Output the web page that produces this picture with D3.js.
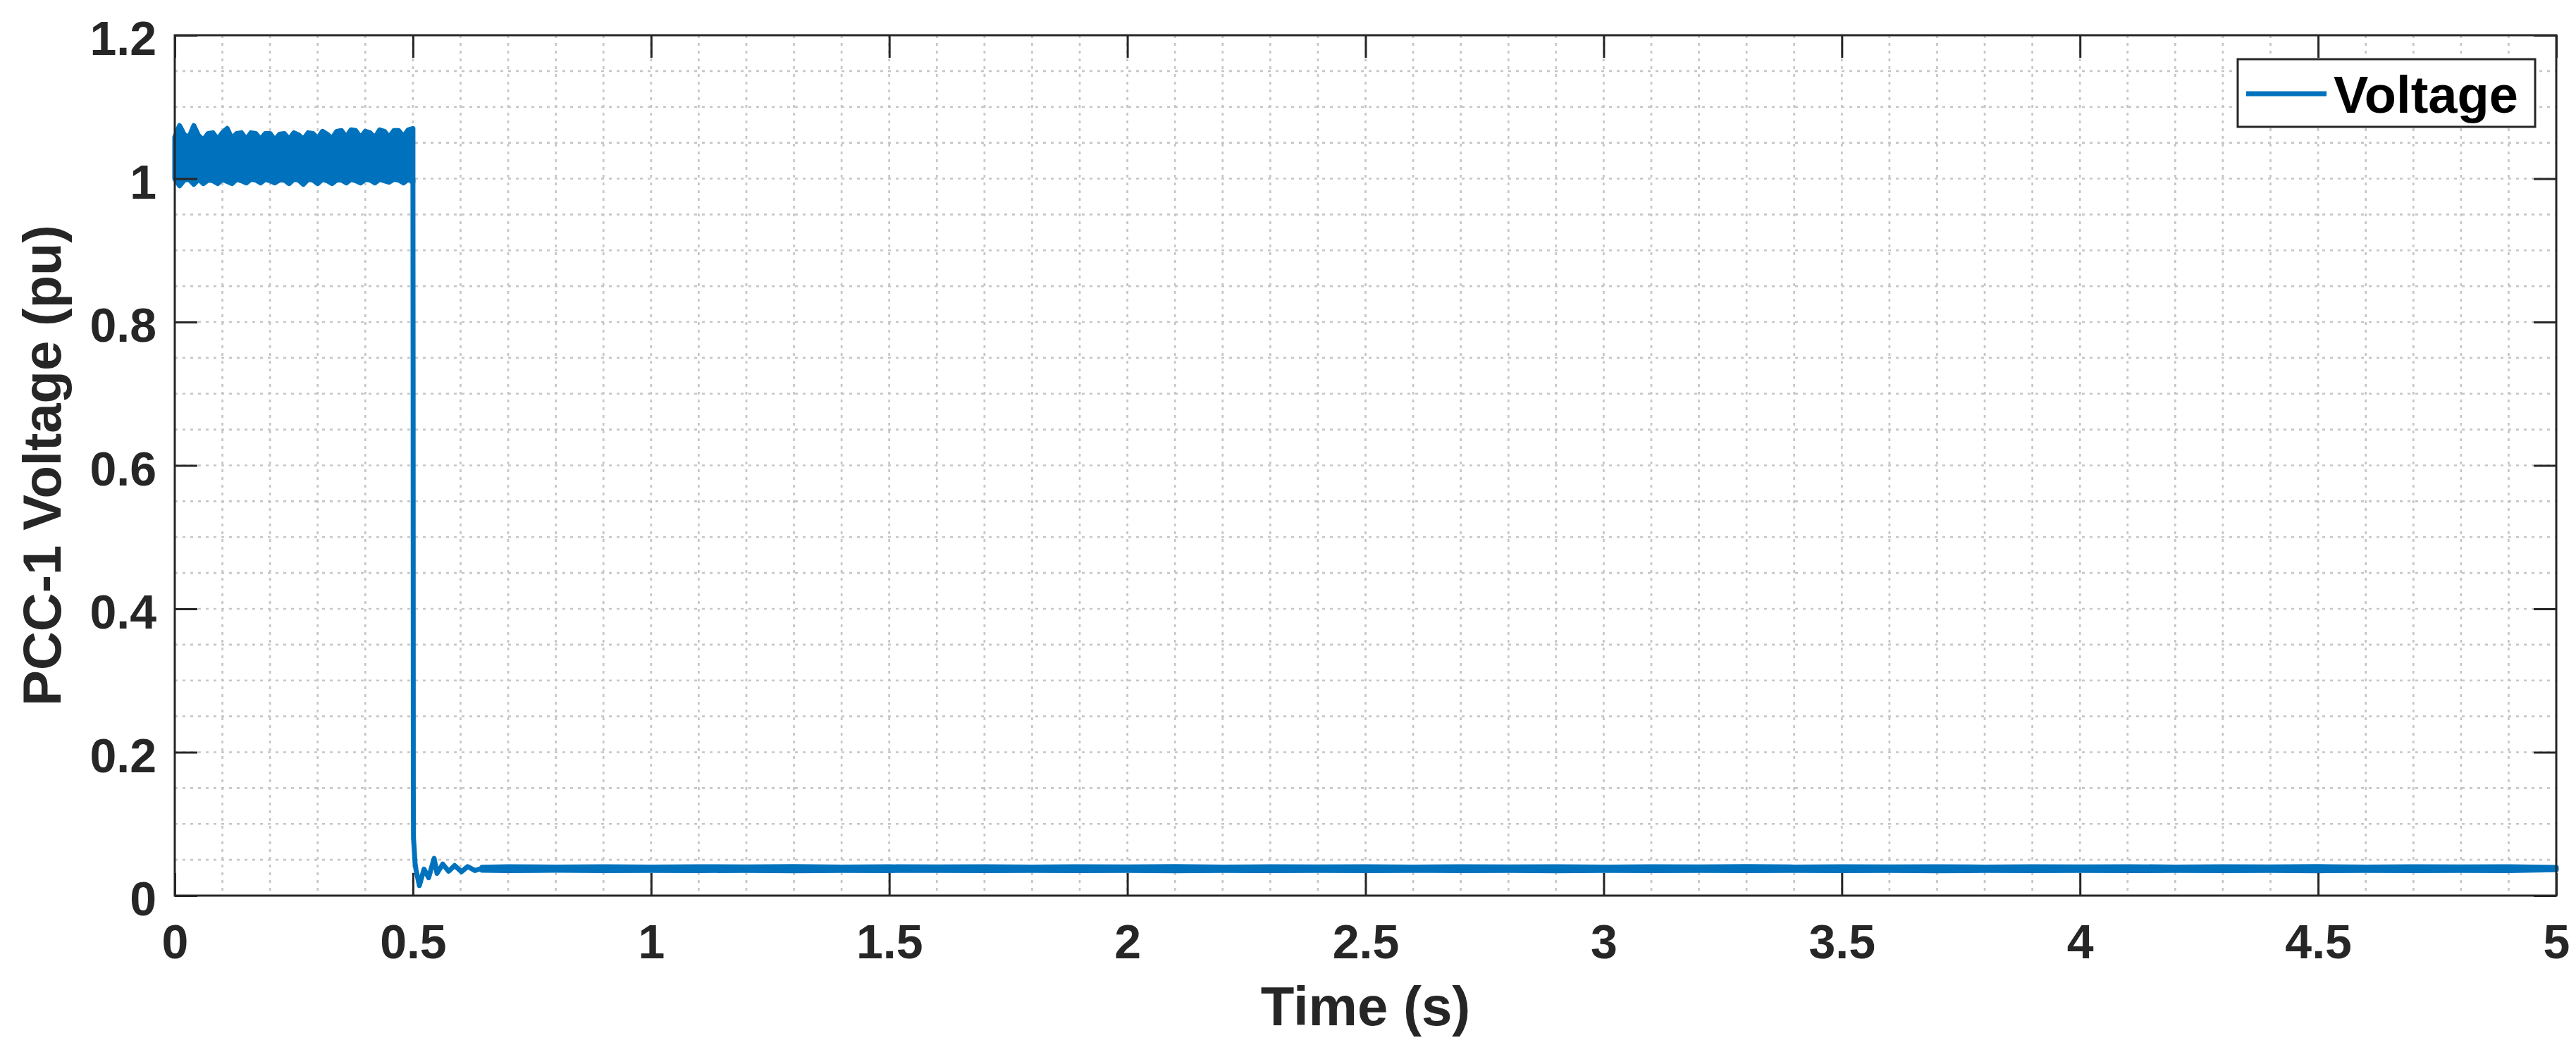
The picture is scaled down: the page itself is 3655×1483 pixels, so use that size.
<!DOCTYPE html>
<html>
<head>
<meta charset="utf-8">
<script src="https://cdn.jsdelivr.net/npm/d3@7"></script>
<style>
  html, body { margin: 0; padding: 0; background: #fff; }
  svg { display: block; }
  text { font-family: "Liberation Sans", Arial, Helvetica, sans-serif; font-weight: bold; }
</style>
</head>
<body>
<svg id="chart" width="3655" height="1483"></svg>
<script>
// ---------------- DATA ----------------
const seriesName = "Voltage";
const xTickValues = [0, 0.5, 1, 1.5, 2, 2.5, 3, 3.5, 4, 4.5, 5];
const xTickLabels = ["0", "0.5", "1", "1.5", "2", "2.5", "3", "3.5", "4", "4.5", "5"];
const yTickValues = [0, 0.2, 0.4, 0.6, 0.8, 1, 1.2];
const yTickLabels = ["0", "0.2", "0.4", "0.6", "0.8", "1", "1.2"];

// Pre-fault period: fast ripple drawn as its min/max envelope (pu)
const bandTime = [0.00, 0.01, 0.02, 0.03, 0.04, 0.05, 0.06, 0.07, 0.08, 0.09,
                  0.10, 0.11, 0.12, 0.13, 0.14, 0.15, 0.16, 0.17, 0.18, 0.19,
                  0.20, 0.21, 0.22, 0.23, 0.24, 0.25, 0.26, 0.27, 0.28, 0.29,
                  0.30, 0.31, 0.32, 0.33, 0.34, 0.35, 0.36, 0.37, 0.38, 0.39,
                  0.40, 0.41, 0.42, 0.43, 0.44, 0.45, 0.46, 0.47, 0.48, 0.49, 0.50];
const bandUpper = [1.058, 1.074, 1.061, 1.058, 1.074, 1.060, 1.054, 1.063, 1.064, 1.055,
                   1.064, 1.070, 1.056, 1.063, 1.064, 1.055, 1.064, 1.063, 1.055, 1.063,
                   1.063, 1.054, 1.062, 1.063, 1.055, 1.064, 1.061, 1.055, 1.064, 1.063,
                   1.056, 1.066, 1.062, 1.056, 1.066, 1.067, 1.058, 1.068, 1.067, 1.057,
                   1.066, 1.064, 1.057, 1.068, 1.066, 1.058, 1.067, 1.067, 1.059, 1.068, 1.070];
const bandLower = [1.000, 0.990, 0.998, 0.999, 0.992, 0.999, 0.993, 0.998, 0.997, 0.993,
                   0.999, 0.996, 0.993, 0.999, 0.997, 0.994, 0.999, 0.998, 0.994, 0.999,
                   0.997, 0.994, 0.998, 0.998, 0.993, 0.999, 0.998, 0.992, 0.999, 0.998,
                   0.993, 0.999, 0.997, 0.993, 0.998, 0.998, 0.994, 0.999, 0.997, 0.994,
                   0.999, 0.998, 0.994, 0.999, 0.997, 0.995, 0.999, 0.998, 0.994, 0.999, 0.995];

// Fault at 0.5 s and the damped transient that follows (pu)
const lineTime = [0.5000, 0.5004, 0.5008, 0.5012, 0.5030, 0.5045, 0.5065, 0.5135, 0.5233, 0.5330,
                  0.5445, 0.5505, 0.5625, 0.5750, 0.5875, 0.6020, 0.6150, 0.6300, 0.6450];
const lineVoltage = [0.998, 0.700, 0.150, 0.080, 0.062, 0.045, 0.036, 0.014, 0.037, 0.025,
                     0.052, 0.031, 0.044, 0.034, 0.042, 0.0334, 0.0405, 0.0350, 0.0380];

// Post-fault steady state: small fast ripple drawn as its min/max envelope (pu)
const postTime = [0.645, 0.70, 0.80, 0.90, 1.00, 1.10, 1.20, 1.30, 1.40, 1.50,
                  1.60, 1.70, 1.80, 1.90, 2.00, 2.10, 2.20, 2.30, 2.40, 2.50,
                  2.60, 2.70, 2.80, 2.90, 3.00, 3.10, 3.20, 3.30, 3.40, 3.50,
                  3.60, 3.70, 3.80, 3.90, 4.00, 4.10, 4.20, 4.30, 4.40, 4.50,
                  4.60, 4.70, 4.80, 4.90, 5.00];
const postUpper = [0.0395, 0.0402, 0.0398, 0.0404, 0.0399, 0.0403, 0.0400, 0.0405, 0.0398, 0.0402,
                   0.0400, 0.0404, 0.0399, 0.0403, 0.0401, 0.0405, 0.0398, 0.0402, 0.0400, 0.0404,
                   0.0399, 0.0403, 0.0401, 0.0404, 0.0398, 0.0402, 0.0400, 0.0405, 0.0399, 0.0403,
                   0.0400, 0.0404, 0.0398, 0.0402, 0.0401, 0.0404, 0.0399, 0.0403, 0.0400, 0.0405,
                   0.0399, 0.0403, 0.0400, 0.0404, 0.0392];
const postLower = [0.0355, 0.0350, 0.0353, 0.0348, 0.0352, 0.0349, 0.0352, 0.0347, 0.0351, 0.0350,
                   0.0352, 0.0348, 0.0351, 0.0349, 0.0352, 0.0347, 0.0351, 0.0349, 0.0352, 0.0348,
                   0.0351, 0.0349, 0.0352, 0.0347, 0.0351, 0.0350, 0.0352, 0.0348, 0.0351, 0.0349,
                   0.0352, 0.0347, 0.0351, 0.0349, 0.0352, 0.0348, 0.0351, 0.0349, 0.0352, 0.0347,
                   0.0351, 0.0349, 0.0352, 0.0348, 0.0360];

// ---------------- LAYOUT ----------------
const svg = d3.select("#chart");
const L = 248, R = 3627, T = 50, B = 1271;
const blue = "#0072BD", axisCol = "#262626", gridCol = "#c6c6c6";
const x = d3.scaleLinear().domain([0, 5]).range([L, R]);
const y = d3.scaleLinear().domain([0, 1.2]).range([B, T]);

// grid (major + minor, all dotted)
const gx = d3.range(1, 50).map(i => i / 10);
const gy = d3.range(1, 24).map(i => i * 0.05);
const grid = svg.append("g");
grid.selectAll("line.gx").data(gx).join("line")
  .attr("x1", d => x(d)).attr("x2", d => x(d)).attr("y1", T).attr("y2", B)
  .attr("stroke", gridCol).attr("stroke-width", 2.7).attr("stroke-dasharray", "4,7");
grid.selectAll("line.gy").data(gy).join("line")
  .attr("y1", d => y(d)).attr("y2", d => y(d)).attr("x1", L).attr("x2", R)
  .attr("stroke", gridCol).attr("stroke-width", 2.7).attr("stroke-dasharray", "4,7");

const area = d3.area().x(d => x(d.t)).y0(d => y(d.lo)).y1(d => y(d.hi));

// pre-fault band
const bandData = bandTime.map((t, i) => ({ t, hi: bandUpper[i], lo: bandLower[i] }));
svg.append("path").datum(bandData).attr("d", area)
  .attr("fill", blue).attr("stroke", blue).attr("stroke-width", 7).attr("stroke-linejoin", "round");

// fault transient line
const lineData = lineTime.map((t, i) => ({ t, v: lineVoltage[i] }));
svg.append("path").datum(lineData)
  .attr("d", d3.line().x(d => x(d.t)).y(d => y(d.v)))
  .attr("fill", "none").attr("stroke", blue).attr("stroke-width", 7)
  .attr("stroke-linejoin", "round").attr("stroke-linecap", "round");

// post-fault band
const postData = postTime.map((t, i) => ({ t, hi: postUpper[i], lo: postLower[i] }));
svg.append("path").datum(postData).attr("d", area)
  .attr("fill", blue).attr("stroke", blue).attr("stroke-width", 7).attr("stroke-linejoin", "round");

// axes
const tickLen = 32;
const fmtX = d => xTickLabels[xTickValues.indexOf(d)];
const fmtY = d => yTickLabels[yTickValues.indexOf(d)];

const axB = svg.append("g").attr("transform", `translate(0,${B})`)
  .call(d3.axisBottom(x).tickValues(xTickValues).tickFormat(fmtX).tickSize(-tickLen).tickPadding(41).tickSizeOuter(0));
const axL = svg.append("g").attr("transform", `translate(${L},0)`)
  .call(d3.axisLeft(y).tickValues(yTickValues).tickFormat(fmtY).tickSize(-tickLen).tickPadding(26).tickSizeOuter(0));
const axT = svg.append("g").attr("transform", `translate(0,${T})`)
  .call(d3.axisTop(x).tickValues(xTickValues).tickFormat("").tickSize(-tickLen).tickSizeOuter(0));
const axR = svg.append("g").attr("transform", `translate(${R},0)`)
  .call(d3.axisRight(y).tickValues(yTickValues).tickFormat("").tickSize(-tickLen).tickSizeOuter(0));

[axB, axL, axT, axR].forEach(g => {
  g.select(".domain").remove();
  g.selectAll(".tick line").attr("stroke", axisCol).attr("stroke-width", 3);
  g.selectAll(".tick text").attr("fill", axisCol).attr("font-size", 68)
    .attr("font-family", '"Liberation Sans", Arial, sans-serif').attr("font-weight", "bold");
});
axL.selectAll(".tick text").attr("dy", "0.41em");

// box
svg.append("rect").attr("x", L).attr("y", T).attr("width", R - L).attr("height", B - T)
  .attr("fill", "none").attr("stroke", axisCol).attr("stroke-width", 3);

// axis titles
svg.append("text").attr("x", (L + R) / 2).attr("y", 1455).attr("text-anchor", "middle")
  .attr("font-size", 78).attr("fill", axisCol).text("Time (s)");
svg.append("text").attr("transform", `translate(86,${(T + B) / 2}) rotate(-90)`)
  .attr("text-anchor", "middle").attr("font-size", 76).attr("fill", axisCol)
  .text("PCC-1 Voltage (pu)");

// legend
const lg = svg.append("g");
lg.append("rect").attr("x", 3175).attr("y", 84).attr("width", 422).attr("height", 96)
  .attr("fill", "#fff").attr("stroke", axisCol).attr("stroke-width", 3);
lg.append("line").attr("x1", 3187).attr("x2", 3301).attr("y1", 133).attr("y2", 133)
  .attr("stroke", blue).attr("stroke-width", 7);
lg.append("text").attr("x", 3311).attr("y", 160).attr("font-size", 74).attr("fill", "#000")
  .text(seriesName);
</script>
</body>
</html>
